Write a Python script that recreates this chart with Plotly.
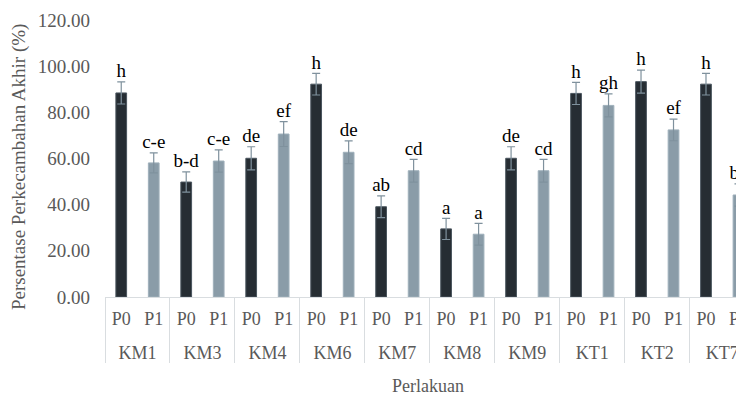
import plotly.graph_objects as go

groups = ["KM1", "KM3", "KM4", "KM6", "KM7", "KM8", "KM9", "KT1", "KT2", "KT7"]
treatments = ["P0", "P1"]
p0_values = [88.4, 49.8, 60.1, 92.2, 39.1, 29.5, 60.1, 88.2, 93.3, 92.2]
p1_values = [58.1, 58.9, 70.6, 62.7, 54.7, 27.2, 54.7, 83.0, 72.4, 44.2]
p0_err = [4.8, 4.4, 5.0, 4.7, 4.7, 4.6, 5.0, 4.8, 5.0, 4.7]
p1_err = [4.3, 4.8, 5.4, 4.9, 4.9, 4.7, 4.9, 5.0, 4.7, 4.8]
p0_letters = ["h", "b-d", "de", "h", "ab", "a", "de", "h", "h", "h"]
p1_letters = ["c-e", "c-e", "ef", "de", "cd", "a", "cd", "gh", "ef", "bc"]
y_ticks = [0, 20, 40, 60, 80, 100, 120]

dark = "#262d33"
light = "#8a9ca8"
gray_text = "#595959"
font_family = "Liberation Serif, Times New Roman, serif"

# taller blank runs on both sides keep P0/P1 centred but push the group row lower
pad = "<span style='font-size:34px'> </span>"

xg, xs, yv, ye, txt, colors, line_colors = [], [], [], [], [], [], []
for i, g in enumerate(groups):
    xg += [g, g]
    xs += [pad + treatments[0] + pad, pad + treatments[1] + pad]
    yv += [p0_values[i], p1_values[i]]
    ye += [p0_err[i], p1_err[i]]
    txt += [p0_letters[i], p1_letters[i]]
    colors += [dark, light]
    line_colors += ["#4a555e", "#9fb0bb"]

fig = go.Figure()
fig.add_trace(go.Bar(
    x=[xg, xs], y=yv, width=0.33,
    marker=dict(color=colors, line=dict(color=line_colors, width=1)),
    error_y=dict(type="data", array=ye, visible=True, color="#7f919d",
                 thickness=1.2, width=4),
    showlegend=False, hoverinfo="skip",
))
fig.add_trace(go.Scatter(
    x=[xg, xs], y=[v + e for v, e in zip(yv, ye)], mode="text", text=txt,
    textposition="top center",
    textfont=dict(family=font_family, size=19, color="#000000"),
    showlegend=False, hoverinfo="skip", cliponaxis=False,
))

# the page body has an 8px margin, so the figure is sized to the visible area
fig.update_layout(
    width=736, height=388,
    margin=dict(l=97, r=0, t=12, b=99),
    paper_bgcolor="white", plot_bgcolor="white",
    font=dict(family=font_family, size=18, color=gray_text),
    annotations=[
        dict(text="Persentase Perkecambahan Akhir (%)", textangle=-90,
             xref="paper", yref="paper", x=-0.1346, y=0.469,
             xanchor="center", yanchor="middle", showarrow=False,
             font=dict(family=font_family, size=19, color=gray_text)),
        dict(text="Perlakuan",
             xref="paper", yref="paper", x=0.5055, y=-0.321,
             xanchor="center", yanchor="middle", showarrow=False,
             font=dict(family=font_family, size=18, color=gray_text)),
    ],
)
fig.update_xaxes(
    type="multicategory", automargin=False,
    range=[-0.5, 19.17], tickangle=0,
    showline=True, linecolor="#d9dde0", linewidth=1,
    showdividers=True, dividercolor="#d9dde0", dividerwidth=1,
    showgrid=False, ticks="", ticklabelstandoff=5,
    tickfont=dict(family=font_family, size=18, color=gray_text),
)
fig.update_yaxes(
    automargin=False,
    range=[0, 120], tickvals=y_ticks,
    ticktext=[f"{v:.2f}" for v in y_ticks],
    showgrid=False, zeroline=False, showline=False, ticks="",
    ticklabelstandoff=14,
    tickfont=dict(family=font_family, size=19, color=gray_text),
)

fig.write_html("out.html")
